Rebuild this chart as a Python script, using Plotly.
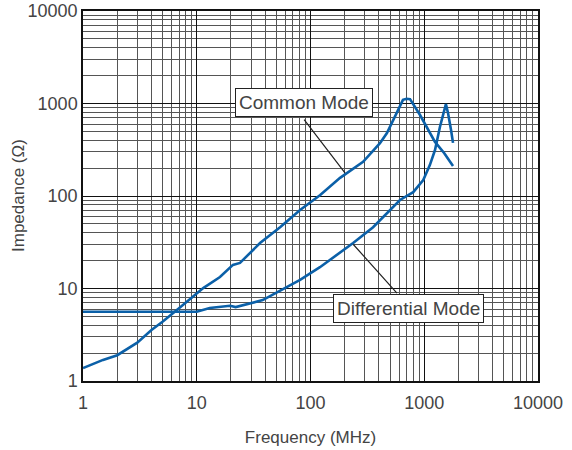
import plotly.graph_objects as go

# Common mode impedance curve
f_cm = [1, 1.5, 2, 3, 4, 5, 7.2, 11.4, 16, 20.8, 24, 36, 54, 81, 121, 182, 290,
        408, 470, 531, 650, 700, 750, 918, 1057, 1243, 1500, 1790]
z_cm = [1.38, 1.69, 1.9, 2.6, 3.56, 4.37, 6.3, 10.1, 13.3, 18, 18.9, 31, 46, 70.6,
        102, 157, 234, 373, 479, 665, 1095, 1125, 1115, 751, 543, 384, 290, 211]

# Differential mode impedance curve
f_dm = [1, 5, 10, 13, 19.6, 22, 38, 81, 121, 237, 355, 612, 800, 980, 1120,
        1243, 1375, 1550, 1618, 1720, 1790]
z_dm = [5.61, 5.61, 5.61, 6.16, 6.5, 6.3, 7.5, 12.4, 17, 31, 46, 90.6, 110, 149,
        216, 314, 560, 985, 790, 516, 375]

tick_vals = [1, 10, 100, 1000, 10000]
tick_text = ["1", "10", "100", "1000", "10000"]

FONT = "Liberation Sans"
TXT = "#444444"
BLUE = "#0b60a8"

fig = go.Figure()
fig.add_trace(go.Scatter(x=f_cm, y=z_cm, mode="lines", name="Common Mode",
                         line=dict(color=BLUE, width=2.6)))
fig.add_trace(go.Scatter(x=f_dm, y=z_dm, mode="lines", name="Differential Mode",
                         line=dict(color=BLUE, width=2.6)))

axis_common = dict(
    type="log", range=[0, 4], tickvals=tick_vals, ticktext=tick_text,
    showgrid=True, gridcolor="#111111", gridwidth=1.2,
    showline=True, linecolor="#111111", linewidth=1.5, mirror=True,
    ticks="", zeroline=False, automargin=False, ticklabeloverflow="allow",
    tickfont=dict(family=FONT, size=18, color=TXT),
    minor=dict(dtick="D1", showgrid=True, gridcolor="#555555", gridwidth=1, ticks=""),
)

fig.update_layout(
    width=572, height=450, autosize=False,
    margin=dict(l=83, r=34, t=11, b=69),
    paper_bgcolor="white", plot_bgcolor="white",
    showlegend=False,
    font=dict(family=FONT, size=17, color=TXT),
    xaxis=dict(**axis_common, ticklabelstandoff=5,
               title=dict(text="Frequency (MHz)", standoff=19,
                          font=dict(family=FONT, size=17, color=TXT))),
    yaxis=dict(**axis_common, ticklabelstandoff=0),
)

# Y axis title as rotated text
fig.add_annotation(x=0, y=0.5, xref="paper", yref="paper", text="Impedance (Ω)",
                   showarrow=False, textangle=-90, xanchor="center", yanchor="middle",
                   xshift=-65, font=dict(family=FONT, size=17, color=TXT))

# Label boxes
labels = [
    ("Common Mode", 1.943, 3.016),
    ("Differential Mode", 2.862, 0.789),
]
for text, lx, ly in labels:
    fig.add_annotation(x=lx, y=ly, xref="x", yref="y", text=text, showarrow=False,
                       font=dict(family=FONT, size=19, color=TXT),
                       bgcolor="white", bordercolor="#222222", borderwidth=1,
                       borderpad=3)

# Leader lines (tail -> head) in log10 coordinates
leaders = [
    (1.934, 2.843, 2.303, 2.249),
    (2.365, 1.492, 2.760, 0.951),
]
for tx, ty, hx, hy in leaders:
    fig.add_annotation(x=hx, y=hy, xref="x", yref="y", ax=tx, ay=ty,
                       axref="x", ayref="y", text="", showarrow=True,
                       arrowhead=0, arrowwidth=1.2, arrowcolor="#222222",
                       standoff=0, startstandoff=0)

fig.write_html("out.html", config={"displayModeBar": False},
               post_script="document.body.style.margin='0';document.body.style.overflow='hidden';")
